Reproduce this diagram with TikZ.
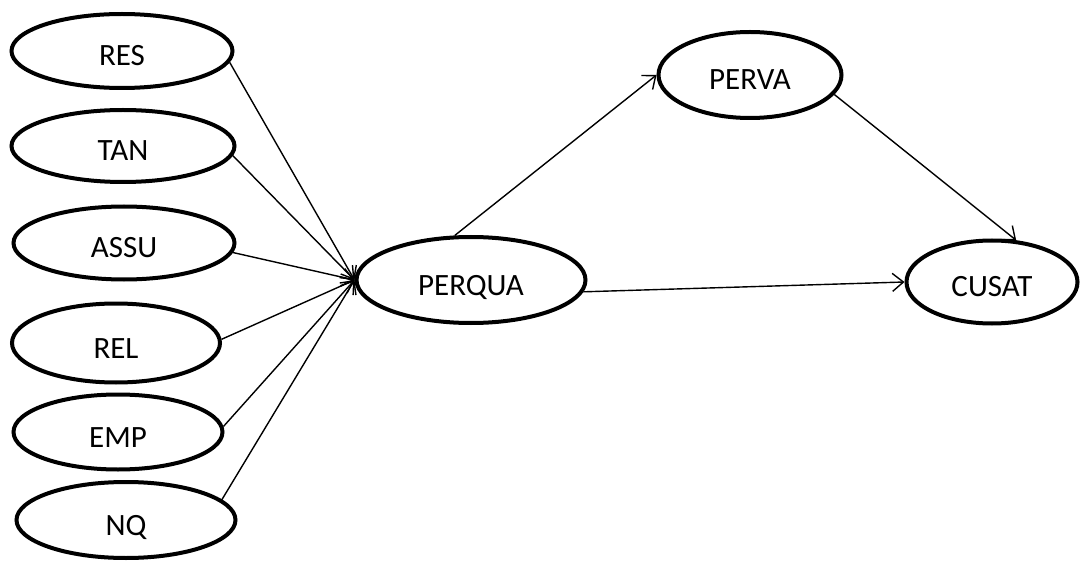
\documentclass[tikz,border=0pt]{standalone}
\usepackage{fontspec}
\setmainfont{Carlito}
\usetikzlibrary{shapes.geometric,arrows.meta}
\tikzset{
  construct/.style={ellipse, draw=black, line width=4pt, fill=white,
    inner sep=0pt, text height=33pt, text depth=3pt,
    font=\fontsize{31}{36}\selectfont},
  path arrow/.style={line width=1.4pt,
    -{Straight Barb[length=11pt,width=18pt,line width=1.4pt]}}
}
\begin{document}
\begin{tikzpicture}[x=1pt,y=-1pt]
  \useasboundingbox (0,0) rectangle (1081,561);
  % service quality dimensions
  \node[construct, minimum width=221pt, minimum height=74pt] (RES)  at (122,51)  {RES};
  \node[construct, minimum width=223pt, minimum height=72pt] (TAN)  at (123,146) {TAN};
  \node[construct, minimum width=221pt, minimum height=73pt] (ASSU) at (124,243) {ASSU};
  \node[construct, minimum width=208pt, minimum height=79pt] (REL)  at (116,343) {REL};
  \node[construct, minimum width=209pt, minimum height=75pt] (EMP)  at (118,432) {EMP};
  \node[construct, minimum width=219pt, minimum height=76pt] (NQ)   at (126,520) {NQ};
  % mediating and outcome constructs
  \node[construct, minimum width=229pt, minimum height=86pt] (PERQUA) at (471,280) {PERQUA};
  \node[construct, minimum width=183pt, minimum height=86pt] (PERVA)  at (750,75)  {PERVA};
  \node[construct, minimum width=171pt, minimum height=83pt] (CUSAT)  at (992,282) {CUSAT};
  % paths into perceived quality, leaving each dimension near its east end
  \foreach \src/\ang in {RES/-6,TAN/-5,ASSU/-5,REL/2,EMP/3,NQ/12}
    \draw[path arrow] (\src.\ang) -- (PERQUA.west);
  \draw[path arrow] (PERQUA.110) -- (PERVA.west);
  \draw[path arrow] (PERQUA.-6) -- (CUSAT.west);
  \draw[path arrow] (PERVA.-13) -- (CUSAT.60);
\end{tikzpicture}
\end{document}
